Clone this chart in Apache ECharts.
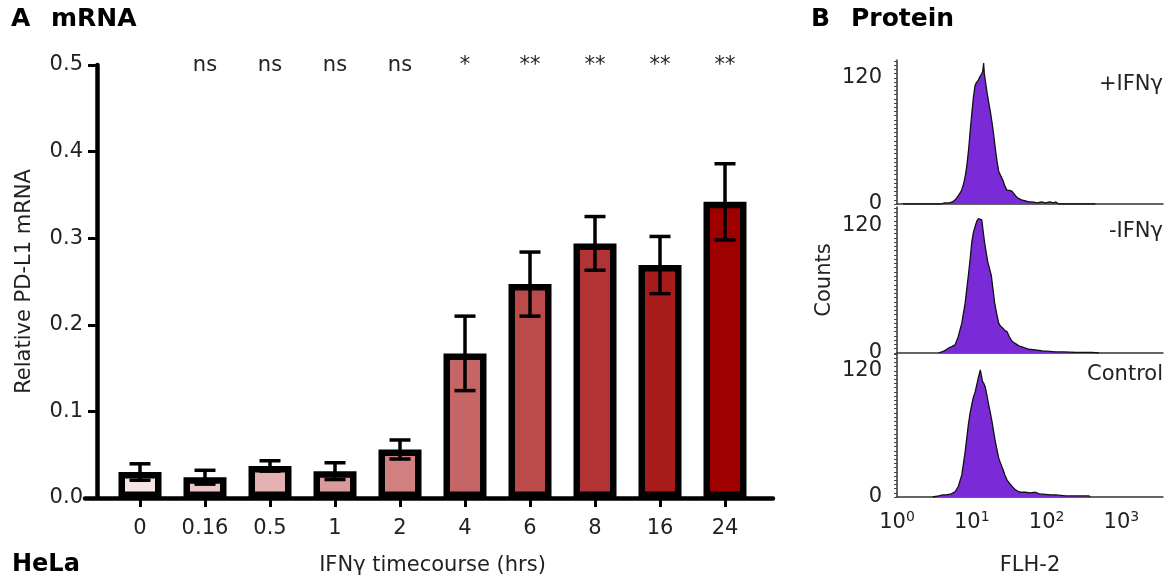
<!DOCTYPE html>
<html>
<head>
<meta charset="utf-8">
<script src="https://cdn.jsdelivr.net/npm/echarts@6/dist/echarts.min.js"></script>
<style>
  html, body { margin: 0; padding: 0; background: #fff; }
  #chart { width: 1173px; height: 581px; }
</style>
</head>
<body>
<div id="chart"></div>
<script>
// ---- Panel A: PD-L1 mRNA over the IFNγ time course ----
const categories = ['0', '0.16', '0.5', '1', '2', '4', '6', '8', '16', '24'];
const means = [0.030, 0.024, 0.037, 0.031, 0.056, 0.167, 0.247, 0.294, 0.269, 0.342];
const errors = [0.0095, 0.008, 0.006, 0.0097, 0.011, 0.043, 0.037, 0.031, 0.033, 0.044];
const significance = ['', 'ns', 'ns', 'ns', 'ns', '*', '**', '**', '**', '**'];
const barColors = ['#f5e2e2', '#ecc6c6', '#e3b1b1', '#da9a9a', '#d17f7f',
                   '#c66565', '#bb4b4b', '#b13333', '#a71b1b', '#9e0000'];
const yTickValues = [0, 0.1, 0.2, 0.3, 0.4, 0.5];

// ---- Panel B: flow cytometry histograms (FLH-2 intensity, counts) ----
const plusIFNg = [[1.2,0],[1.25,1],[1.3,0],[3.9,0],[4.3,1],[5.0,1],[5.5,2],[6.0,4],[6.6,8],[7.2,12],[7.7,18],
  [8.2,27],[8.6,37],[9.1,53],[9.5,69],[10.0,86],[10.5,101],[11.0,112],[11.4,115],[12.3,118],[12.8,121],
  [13.4,123],[14.0,126],[14.4,134],[14.7,124],[15.1,118],[16.0,106],[16.8,97],[17.7,88],[18.6,78],[19.6,66],
  [20.6,53],[21.7,41],[22.9,31],[24.3,27],[25.9,23],[27.7,17],[29.6,13],[32.0,13],[34.6,12],[37.5,9],
  [40.4,6],[46,4],[52,3],[58,2],[64,2],[75,1],[85,2],[97,1],[110,2],[125,1],[133,2],[145,0],
  [240,0],[245,1],[250,0],[430,0],[440,1],[450,0]];
const minusIFNg = [[3.6,0],[3.75,1],[4.3,2],[4.86,4.5],[5.4,6],[5.97,7.6],[6.6,15.6],[7.35,28],[8.15,47],
  [9.0,73],[9.5,88],[10.0,104],[10.5,113],[11.1,119],[11.7,124],[12.3,126],[12.9,127],[13.6,125],[14.2,114],
  [14.8,104],[15.6,94],[16.4,85],[17.3,79],[18.2,73],[19.2,60],[20.2,47],[21.5,37],[22.9,28],[24.3,25],
  [25.9,23.5],[27.7,21],[29.6,20],[31.9,15],[34.6,11],[38,9],[42.5,6.7],[50,5],[58,3.5],[70,3],[87.5,2],
  [110,1.5],[133,1],[170,1],[250,0.5],[400,0.5],[500,0]];
const control = [[3.0,0],[3.05,1],[3.6,1],[4.1,2],[4.6,2],[5.3,3],[5.97,5],[6.6,10],[7.35,21],[8.15,43],
  [9.0,69],[9.5,80],[10.0,88],[10.5,95],[11.1,100],[12.1,112],[12.6,117],[13.0,121],[13.4,116],[13.9,110],
  [14.5,108],[15.1,105],[16.0,96],[16.8,88],[17.7,80],[18.6,72],[19.6,62],[20.6,53],[21.7,45],[22.9,37],
  [24.3,32],[25.9,27],[27.7,21],[29.6,16],[32,13],[34.6,10],[38,7],[42.5,5],[47,4.5],[52,4.5],[60,4],
  [71,4.5],[80,3],[97,2.5],[115,2],[133,2],[180,1],[250,1],[370,1],[380,0]];
const histLabels = ['+IFNγ', '-IFNγ', 'Control'];
const histCountLabels = [0, 120];
const histDecades = [0, 1, 2, 3];
const histMaxIntensity = 3600;
const histMaxCount = 137;

const FONT = 'DejaVu Sans';
const INK = '#222';
const PURPLE = '#7a2ad6';
const FS = 21;

const chart = echarts.init(document.getElementById('chart'), null, { renderer: 'canvas' });

const yMax = yTickValues[yTickValues.length - 1];
const BAR_W = 43, BAR_B = 6.5;

function barItem(params, api) {
  const i = api.value(0), v = api.value(1);
  const top = api.coord([i, v]);
  const base = api.coord([i, 0]);
  return {
    type: 'rect',
    shape: { x: top[0] - BAR_W / 2 + BAR_B / 2, y: top[1] + BAR_B / 2,
             width: BAR_W - BAR_B, height: base[1] - top[1] - BAR_B },
    style: { fill: barColors[i], stroke: '#000', lineWidth: BAR_B }
  };
}

function errItem(params, api) {
  const i = api.value(0), v = api.value(1), e = api.value(2);
  const hi = api.coord([i, v + e]);
  const lo = api.coord([i, v - e]);
  const cap = 10.5;
  const st = { stroke: '#000', lineWidth: 3.5 };
  return {
    type: 'group',
    children: [
      { type: 'line', shape: { x1: hi[0], y1: hi[1], x2: lo[0], y2: lo[1] }, style: st },
      { type: 'line', shape: { x1: hi[0] - cap, y1: hi[1], x2: hi[0] + cap, y2: hi[1] }, style: st },
      { type: 'line', shape: { x1: lo[0] - cap, y1: lo[1], x2: lo[0] + cap, y2: lo[1] }, style: st }
    ]
  };
}

function sigItem(params, api) {
  const i = api.value(0);
  const p = api.coord([i, yMax]);
  return {
    type: 'text',
    style: { text: significance[i], x: p[0], y: p[1] + 1, align: 'center', verticalAlign: 'middle',
             fill: INK, fontSize: FS, fontFamily: FONT }
  };
}

// count labels beside each histogram's y axis
function countLabelItem(params, api) {
  const p = api.coord([0, api.value(0)]);
  return {
    type: 'text',
    style: { text: String(api.value(0)), x: p[0] - 15, y: p[1], align: 'right', verticalAlign: 'middle',
             fill: INK, fontSize: FS, fontFamily: FONT }
  };
}

// Histogram grids share the same x range (log10 of intensity) and count scale
const histGrids = [
  { left: 897, right: 10, top: 60, height: 144 },
  { left: 897, right: 10, top: 207, height: 146 },
  { left: 897, right: 10, top: 353, height: 144 }
];

// dense little ticks along each count axis
const countTickValues = [];
for (let c = 0; c <= histMaxCount; c += 4) countTickValues.push(c);

const histX = histGrids.map((g, k) => ({
  type: 'value', gridIndex: 2 + k, min: 0, max: Math.log10(histMaxIntensity),
  axisLine: { show: true, onZero: false, lineStyle: { color: '#333', width: 1.5 } },
  axisTick: { show: false },
  splitLine: { show: false },
  axisLabel: {
    show: k === 2, margin: 13, customValues: histDecades,
    formatter: v => '{b|10}{s|' + Math.round(v) + '}',
    rich: {
      b: { fontSize: FS, fontFamily: FONT, color: INK, lineHeight: 25 },
      s: { fontSize: 14, fontFamily: FONT, color: INK, verticalAlign: 'top', lineHeight: 14 }
    }
  },
  name: k === 2 ? 'FLH-2' : '',
  nameLocation: 'middle', nameGap: 58,
  nameTextStyle: { fontSize: FS, fontFamily: FONT, color: INK }
}));

const histY = histGrids.map((g, k) => ({
  type: 'value', gridIndex: 2 + k, min: 0, max: histMaxCount,
  axisLine: { show: true, onZero: false, lineStyle: { color: '#333', width: 1.5 } },
  axisTick: { show: true, length: 3, customValues: countTickValues, lineStyle: { color: '#444', width: 1 } },
  splitLine: { show: false },
  axisLabel: { show: false },
  name: k === 1 ? 'Counts' : '',
  nameLocation: 'middle', nameGap: 62, nameRotate: 90,
  nameTextStyle: { fontSize: FS, fontFamily: FONT, color: INK }
}));

const histSeries = [];
[plusIFNg, minusIFNg, control].forEach((d, k) => {
  histSeries.push({
    type: 'line', xAxisIndex: 2 + k, yAxisIndex: 2 + k,
    data: d.map(p => [Math.log10(p[0]), p[1]]),
    showSymbol: false, symbol: 'none', smooth: false,
    lineStyle: { color: '#111', width: 1.3 },
    areaStyle: { color: PURPLE, opacity: 1 },
    z: 3
  });
  histSeries.push({
    type: 'custom', xAxisIndex: 2 + k, yAxisIndex: 2 + k, renderItem: countLabelItem,
    data: histCountLabels.map(v => [v]), encode: { y: 0 }, clip: false, z: 5
  });
});

const titleStyle = { fontSize: 25, fontWeight: 'bold', fontFamily: FONT, color: '#000' };
const textStyle = { fontSize: FS, fontWeight: 'normal', fontFamily: FONT, color: INK };
const option = {
  animation: false,
  backgroundColor: '#fff',
  title: [
    { text: 'A', left: 11, top: 7, padding: 0, textStyle: titleStyle },
    { text: 'mRNA', left: 51, top: 7, padding: 0, textStyle: titleStyle },
    { text: 'B', left: 811, top: 7, padding: 0, textStyle: titleStyle },
    { text: 'Protein', left: 851, top: 7, padding: 0, textStyle: titleStyle },
    { text: 'HeLa', left: 12, top: 553, padding: 0, textStyle: Object.assign({}, titleStyle, { fontSize: 24 }) },
    { text: histLabels[0], right: 10, top: 74, padding: 0, textStyle: textStyle },
    { text: histLabels[1], right: 10, top: 221, padding: 0, textStyle: textStyle },
    { text: histLabels[2], right: 10, top: 364, padding: 0, textStyle: textStyle }
  ],
  grid: [
    { left: 107.5, width: 650, top: 65, bottom: 83 },
    { left: 85, right: 400, top: 65, bottom: 83 }
  ].concat(histGrids),
  xAxis: [
    {
      type: 'category', gridIndex: 0, data: categories, boundaryGap: true,
      axisLine: { show: false },
      axisTick: { show: true, alignWithLabel: true, length: 9, lineStyle: { color: '#000', width: 3 } },
      axisLabel: { margin: 20, fontSize: FS, fontFamily: FONT, color: INK },
      name: 'IFNγ timecourse (hrs)', nameLocation: 'middle', nameGap: 57,
      nameTextStyle: { fontSize: FS, fontFamily: FONT, color: INK }
    },
    {
      // baseline running under the whole bar panel
      type: 'value', gridIndex: 1, min: 0, max: 1,
      axisLine: { show: true, lineStyle: { color: '#000', width: 4.5 } },
      axisTick: { show: false }, axisLabel: { show: false }, splitLine: { show: false }
    }
  ].concat(histX),
  yAxis: [
    {
      type: 'value', gridIndex: 0, min: 0, max: yMax, interval: 0.1, offset: 10.5,
      axisLine: { show: true, onZero: false, lineStyle: { color: '#000', width: 4.5 } },
      axisTick: { show: true, length: 9, lineStyle: { color: '#000', width: 3 } },
      splitLine: { show: false },
      axisLabel: { margin: 14, fontSize: FS, fontFamily: FONT, color: INK,
                   formatter: v => v.toFixed(1) },
      name: 'Relative PD-L1 mRNA', nameLocation: 'middle', nameGap: 62, nameRotate: 90,
      nameTextStyle: { fontSize: FS, fontFamily: FONT, color: INK }
    },
    { type: 'value', gridIndex: 1, show: false, min: 0, max: 1 }
  ].concat(histY),
  series: [
    { type: 'custom', xAxisIndex: 0, yAxisIndex: 0, renderItem: barItem,
      data: categories.map((c, i) => [i, means[i]]), z: 2 },
    { type: 'custom', xAxisIndex: 0, yAxisIndex: 0, renderItem: errItem,
      data: categories.map((c, i) => [i, means[i], errors[i]]), z: 4 },
    { type: 'custom', xAxisIndex: 0, yAxisIndex: 0, renderItem: sigItem,
      data: categories.map((c, i) => [i]), z: 5, clip: false }
  ].concat(histSeries)
};

chart.setOption(option);
</script>
</body>
</html>
